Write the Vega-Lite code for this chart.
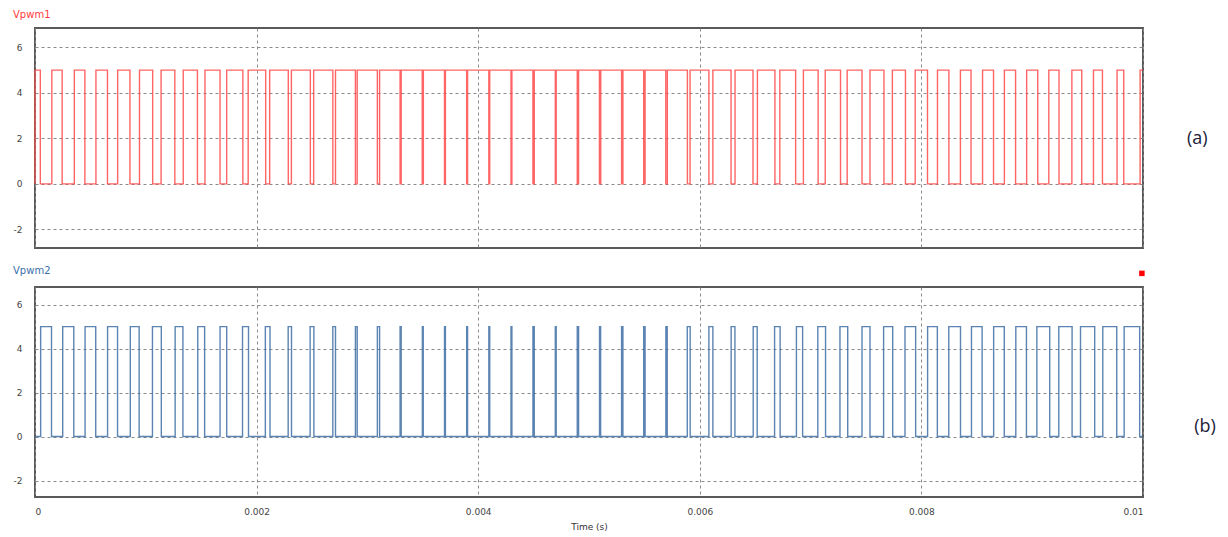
{
  "$schema": "https://vega.github.io/schema/vega-lite/v6.json",
  "background": "white",
  "padding": {"left": 12, "top": 9, "right": 5, "bottom": 4},
  "spacing": 15,
  "config": {
    "view": {"stroke": "#5a5a5a", "strokeWidth": 2},
    "axis": {"labelFont": "DejaVu Sans", "labelFontSize": 9, "labelColor": "#444", "titleFont": "DejaVu Sans", "titleFontSize": 9, "titleFontWeight": "normal", "titleColor": "#333", "gridColor": "#8a8a8a", "gridDash": [3, 3], "gridWidth": 1, "ticks": false, "domain": false},
    "title": {"font": "DejaVu Sans", "fontSize": 10, "fontWeight": "normal", "anchor": "start", "offset": 6}
  },
  "datasets": {
    "p1": [
      {"t":0,"v":0},{"t":0,"v":5},
      {"t":0.048,"v":0},{"t":0.152,"v":5},
      {"t":0.245,"v":0},{"t":0.355,"v":5},
      {"t":0.450,"v":0},{"t":0.550,"v":5},
      {"t":0.654,"v":0},{"t":0.746,"v":5},
      {"t":0.857,"v":0},{"t":0.943,"v":5},
      {"t":1.062,"v":0},{"t":1.138,"v":5},
      {"t":1.262,"v":0},{"t":1.338,"v":5},
      {"t":1.466,"v":0},{"t":1.534,"v":5},
      {"t":1.670,"v":0},{"t":1.730,"v":5},
      {"t":1.876,"v":0},{"t":1.924,"v":5},
      {"t":2.082,"v":0},{"t":2.118,"v":5},
      {"t":2.286,"v":0},{"t":2.314,"v":5},
      {"t":2.485,"v":0},{"t":2.515,"v":5},
      {"t":2.688,"v":0},{"t":2.712,"v":5},
      {"t":2.892,"v":0},{"t":2.908,"v":5},
      {"t":3.090,"v":0},{"t":3.110,"v":5},
      {"t":3.295,"v":0},{"t":3.305,"v":5},
      {"t":3.495,"v":0},{"t":3.505,"v":5},
      {"t":3.696,"v":0},{"t":3.704,"v":5},
      {"t":3.896,"v":0},{"t":3.904,"v":5},
      {"t":4.096,"v":0},{"t":4.104,"v":5},
      {"t":4.296,"v":0},{"t":4.304,"v":5},
      {"t":4.494,"v":0},{"t":4.506,"v":5},
      {"t":4.696,"v":0},{"t":4.704,"v":5},
      {"t":4.894,"v":0},{"t":4.906,"v":5},
      {"t":5.094,"v":0},{"t":5.106,"v":5},
      {"t":5.294,"v":0},{"t":5.306,"v":5},
      {"t":5.494,"v":0},{"t":5.506,"v":5},
      {"t":5.693,"v":0},{"t":5.707,"v":5},
      {"t":5.888,"v":0},{"t":5.912,"v":5},
      {"t":6.082,"v":0},{"t":6.118,"v":5},
      {"t":6.282,"v":0},{"t":6.318,"v":5},
      {"t":6.480,"v":0},{"t":6.520,"v":5},
      {"t":6.678,"v":0},{"t":6.722,"v":5},
      {"t":6.865,"v":0},{"t":6.935,"v":5},
      {"t":7.068,"v":0},{"t":7.132,"v":5},
      {"t":7.270,"v":0},{"t":7.330,"v":5},
      {"t":7.464,"v":0},{"t":7.536,"v":5},
      {"t":7.662,"v":0},{"t":7.738,"v":5},
      {"t":7.856,"v":0},{"t":7.944,"v":5},
      {"t":8.055,"v":0},{"t":8.145,"v":5},
      {"t":8.248,"v":0},{"t":8.352,"v":5},
      {"t":8.448,"v":0},{"t":8.552,"v":5},
      {"t":8.651,"v":0},{"t":8.749,"v":5},
      {"t":8.850,"v":0},{"t":8.950,"v":5},
      {"t":9.050,"v":0},{"t":9.150,"v":5},
      {"t":9.242,"v":0},{"t":9.358,"v":5},
      {"t":9.447,"v":0},{"t":9.553,"v":5},
      {"t":9.634,"v":0},{"t":9.766,"v":5},
      {"t":9.826,"v":0},{"t":9.974,"v":5},
      {"t":10,"v":5}
    ],
    "p2": [
      {"t":0,"v":0},
      {"t":0.051,"v":5},{"t":0.149,"v":0},
      {"t":0.250,"v":5},{"t":0.350,"v":0},
      {"t":0.452,"v":5},{"t":0.548,"v":0},
      {"t":0.655,"v":5},{"t":0.745,"v":0},
      {"t":0.860,"v":5},{"t":0.940,"v":0},
      {"t":1.060,"v":5},{"t":1.140,"v":0},
      {"t":1.265,"v":5},{"t":1.335,"v":0},
      {"t":1.469,"v":5},{"t":1.531,"v":0},
      {"t":1.670,"v":5},{"t":1.730,"v":0},
      {"t":1.873,"v":5},{"t":1.927,"v":0},
      {"t":2.079,"v":5},{"t":2.121,"v":0},
      {"t":2.285,"v":5},{"t":2.315,"v":0},
      {"t":2.483,"v":5},{"t":2.517,"v":0},
      {"t":2.688,"v":5},{"t":2.712,"v":0},
      {"t":2.892,"v":5},{"t":2.908,"v":0},
      {"t":3.090,"v":5},{"t":3.110,"v":0},
      {"t":3.295,"v":5},{"t":3.305,"v":0},
      {"t":3.496,"v":5},{"t":3.504,"v":0},
      {"t":3.696,"v":5},{"t":3.704,"v":0},
      {"t":3.896,"v":5},{"t":3.904,"v":0},
      {"t":4.096,"v":5},{"t":4.104,"v":0},
      {"t":4.296,"v":5},{"t":4.304,"v":0},
      {"t":4.494,"v":5},{"t":4.506,"v":0},
      {"t":4.696,"v":5},{"t":4.704,"v":0},
      {"t":4.894,"v":5},{"t":4.906,"v":0},
      {"t":5.095,"v":5},{"t":5.105,"v":0},
      {"t":5.294,"v":5},{"t":5.306,"v":0},
      {"t":5.494,"v":5},{"t":5.506,"v":0},
      {"t":5.694,"v":5},{"t":5.706,"v":0},
      {"t":5.887,"v":5},{"t":5.913,"v":0},
      {"t":6.082,"v":5},{"t":6.118,"v":0},
      {"t":6.283,"v":5},{"t":6.317,"v":0},
      {"t":6.482,"v":5},{"t":6.518,"v":0},
      {"t":6.675,"v":5},{"t":6.725,"v":0},
      {"t":6.872,"v":5},{"t":6.928,"v":0},
      {"t":7.065,"v":5},{"t":7.135,"v":0},
      {"t":7.265,"v":5},{"t":7.335,"v":0},
      {"t":7.464,"v":5},{"t":7.536,"v":0},
      {"t":7.659,"v":5},{"t":7.741,"v":0},
      {"t":7.852,"v":5},{"t":7.948,"v":0},
      {"t":8.056,"v":5},{"t":8.144,"v":0},
      {"t":8.247,"v":5},{"t":8.353,"v":0},
      {"t":8.452,"v":5},{"t":8.548,"v":0},
      {"t":8.652,"v":5},{"t":8.748,"v":0},
      {"t":8.852,"v":5},{"t":8.948,"v":0},
      {"t":9.042,"v":5},{"t":9.158,"v":0},
      {"t":9.240,"v":5},{"t":9.360,"v":0},
      {"t":9.436,"v":5},{"t":9.564,"v":0},
      {"t":9.637,"v":5},{"t":9.763,"v":0},
      {"t":9.830,"v":5},{"t":9.970,"v":0},
      {"t":10,"v":0}
    ]
  },
  "vconcat": [
    {
      "width": 1108,
      "height": 220,
      "title": {"text": "Vpwm1", "color": "#ff3b3b", "offset": 8},
      "layer": [
        {
          "data": {"name": "p1"},
          "mark": {"type": "line", "interpolate": "step-after", "color": "#ff4a4a", "strokeWidth": 1.4, "opacity": 0.85},
          "encoding": {
            "x": {"field": "t", "type": "quantitative", "scale": {"domain": [0, 10], "nice": false}, "axis": {"values": [0, 2, 4, 6, 8, 10], "labels": false, "title": null, "grid": true}},
            "y": {"field": "v", "type": "quantitative", "scale": {"domain": [-2.82, 6.85], "nice": false, "zero": false}, "axis": {"values": [-2, 0, 2, 4, 6], "title": null, "labelPadding": 13, "labelExpr": "datum.value < 0 ? '-' + abs(datum.value) : '' + datum.value"}}
          }
        },
        {
          "data": {"values": [{"t": 10.49, "v": 1.95, "label": "(a)"}]},
          "mark": {"type": "text", "font": "Open Sans", "fontSize": 18, "color": "#1c1c3a"},
          "encoding": {
            "x": {"field": "t", "type": "quantitative"},
            "y": {"field": "v", "type": "quantitative"},
            "text": {"field": "label"}
          }
        }
      ]
    },
    {
      "width": 1108,
      "height": 210,
      "title": {"text": "Vpwm2", "color": "#3d6fa8", "offset": -5},
      "layer": [
        {
          "data": {"name": "p2"},
          "mark": {"type": "line", "interpolate": "step-after", "color": "#3e6ea6", "strokeWidth": 1.4, "opacity": 0.85},
          "encoding": {
            "x": {"field": "t", "type": "quantitative", "scale": {"domain": [0, 10], "nice": false}, "axis": {"values": [0, 2, 4, 6, 8, 10], "labelExpr": "format(datum.value / 1000, '~g')", "labelPadding": 10, "title": "Time (s)", "titlePadding": 6, "grid": true}},
            "y": {"field": "v", "type": "quantitative", "scale": {"domain": [-2.75, 6.8], "nice": false, "zero": false}, "axis": {"values": [-2, 0, 2, 4, 6], "title": null, "labelPadding": 13, "labelExpr": "datum.value < 0 ? '-' + abs(datum.value) : '' + datum.value"}}
          }
        },
        {
          "data": {"values": [{"t": 10.56, "v": 0.45, "label": "(b)"}]},
          "mark": {"type": "text", "font": "Open Sans", "fontSize": 18, "color": "#1c1c3a"},
          "encoding": {
            "x": {"field": "t", "type": "quantitative"},
            "y": {"field": "v", "type": "quantitative"},
            "text": {"field": "label"}
          }
        },
        {
          "data": {"values": [{"t": 9.99, "v": 7.42}]},
          "mark": {"type": "point", "shape": "square", "filled": true, "size": 30, "color": "#ff0000", "opacity": 1},
          "encoding": {
            "x": {"field": "t", "type": "quantitative"},
            "y": {"field": "v", "type": "quantitative"}
          }
        }
      ]
    }
  ]
}
